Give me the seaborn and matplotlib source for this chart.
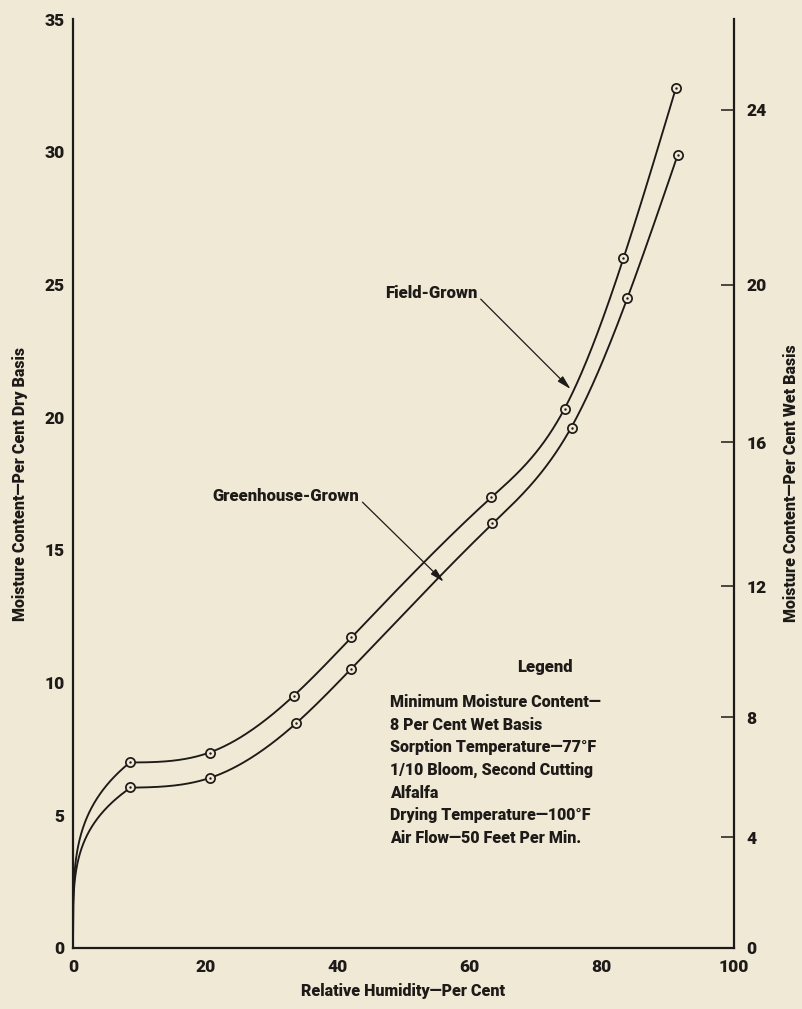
import numpy as np
import matplotlib
matplotlib.use("Agg")
import matplotlib.pyplot as plt
import seaborn as sns

# Sorption readings: relative humidity (%) vs moisture content (% dry basis)
rh_field = [8.6, 20.8, 33.4, 42.1, 63.2, 74.5, 83.3, 91.2]
mc_field = [7.0, 7.36, 9.5, 11.7, 17.0, 20.3, 26.0, 32.4]
rh_green = [8.7, 20.8, 33.8, 42.0, 63.4, 75.5, 83.9, 91.5]
mc_green = [6.05, 6.4, 8.47, 10.5, 16.0, 19.6, 24.5, 29.9]

x_ticks = [0, 20, 40, 60, 80, 100]
dry_ticks = [0, 5, 10, 15, 20, 25, 30, 35]
wet_ticks = [0, 4, 8, 12, 16, 20, 24]

legend_title = "Legend"
legend_lines = [
    "Minimum Moisture Content\u2014",
    "8 Per Cent Wet Basis",
    "Sorption Temperature\u201477\u00b0F",
    "1/10 Bloom, Second Cutting",
    "Alfalfa",
    "Drying Temperature\u2014100\u00b0F",
    "Air Flow\u201450 Feet Per Min.",
]

BG = "#EFE9D6"
INK = "#1D1A17"
WEIGHT = 900

sns.set_theme(style="white")
plt.rcParams["font.family"] = ["Roboto", "DejaVu Sans"]
plt.rcParams["font.weight"] = WEIGHT
plt.rcParams["text.color"] = INK
plt.rcParams["axes.labelcolor"] = INK
plt.rcParams["xtick.color"] = INK
plt.rcParams["ytick.color"] = INK


def smooth_curve(xk, yk, lam=10.0, n=400):
    """Penalised (smoothing-spline style) curve through the readings."""
    xk = np.asarray(xk, float)
    yk = np.asarray(yk, float)
    g = np.linspace(xk[0], xk[-1], n)
    dx = g[1] - g[0]
    P = np.zeros((len(xk), n))
    for i, x in enumerate(xk):
        j = min(int((x - g[0]) / dx), n - 2)
        t = (x - g[j]) / dx
        P[i, j] = 1 - t
        P[i, j + 1] = t
    D = np.zeros((n - 2, n))
    for i in range(n - 2):
        D[i, i:i + 3] = [1, -2, 1]
    D /= dx**2
    A = P.T @ P + lam * dx * (D.T @ D)
    return g, np.linalg.solve(A, P.T @ yk)


def isotherm(rh, mc, power=0.25):
    """Steep rise from zero humidity to the first reading, then a smooth
    curve through the remaining readings."""
    g, y = smooth_curve(rh, mc)
    x_low = np.linspace(0, g[0], 200)
    y_low = y[0] * (x_low / g[0]) ** power
    return np.concatenate([x_low, g[1:]]), np.concatenate([y_low, y[1:]])


fig = plt.figure(figsize=(8.02, 10.09), dpi=100, facecolor=BG)
ax = fig.add_axes([0.091, 0.0605, 0.824, 0.9205])
ax.set_facecolor(BG)

for rh, mc in ((rh_field, mc_field), (rh_green, mc_green)):
    cx, cy = isotherm(rh, mc)
    sns.lineplot(x=cx, y=cy, ax=ax, color=INK, linewidth=1.35,
                 estimator=None, sort=False, legend=False)
    sns.scatterplot(x=rh, y=mc, ax=ax, marker="o", s=44, facecolor=BG,
                    edgecolor=INK, linewidth=1.25, zorder=4, legend=False)
    sns.scatterplot(x=rh, y=mc, ax=ax, marker="o", s=3, color=INK,
                    linewidth=0, zorder=5, legend=False)

ax.set_xlim(0, 100)
ax.set_ylim(0, 35)
ax.set_xticks(x_ticks)
ax.set_yticks(dry_ticks)
ax.tick_params(axis="both", direction="in", length=9.5, width=1.1,
               labelsize=12.5, colors=INK)
ax.tick_params(axis="x", pad=8)
ax.tick_params(axis="y", pad=6)
for lab in ax.get_xticklabels() + ax.get_yticklabels():
    lab.set_fontweight(WEIGHT)

for side in ("top", "right"):
    ax.spines[side].set_visible(False)
for side in ("left", "bottom"):
    ax.spines[side].set_color(INK)
    ax.spines[side].set_linewidth(1.6)

ax.set_xlabel("Relative Humidity\u2014Per Cent", fontsize=11.5,
              fontweight=WEIGHT, labelpad=6)
ax.set_ylabel("Moisture Content\u2014Per Cent Dry Basis", fontsize=11.5,
              fontweight=WEIGHT, labelpad=12)


def dry_to_wet(d):
    d = np.asarray(d, float)
    return 100.0 * d / (100.0 + d)


def wet_to_dry(w):
    w = np.asarray(w, float)
    return 100.0 * w / (100.0 - w)


sec = ax.secondary_yaxis("right", functions=(dry_to_wet, wet_to_dry))
sec.set_yticks(wet_ticks)
sec.tick_params(direction="in", length=9.5, width=1.1, labelsize=12.5,
                pad=9, colors=INK)
for lab in sec.get_yticklabels():
    lab.set_fontweight(WEIGHT)
sec.spines["right"].set_color(INK)
sec.spines["right"].set_linewidth(1.6)
sec.set_ylabel("Moisture Content\u2014Per Cent Wet Basis", fontsize=11.5,
               fontweight=WEIGHT, labelpad=12, rotation=90)

# curve call-outs
arrow = dict(arrowstyle="-|>,head_length=0.7,head_width=0.18", color=INK,
             linewidth=0.9, shrinkA=0, shrinkB=0)
ax.text(61.2, 24.68, "Field-Grown", ha="right", va="center",
        fontsize=12, fontweight=WEIGHT)
ax.annotate("", xy=(75.3, 21.06), xytext=(61.7, 24.45), arrowprops=arrow)
ax.text(43.3, 17.03, "Greenhouse-Grown", ha="right", va="center",
        fontsize=12, fontweight=WEIGHT)
ax.annotate("", xy=(56.1, 13.8), xytext=(43.8, 16.8), arrowprops=arrow)

# legend block
ax.text(71.4, 10.59, legend_title, ha="center", va="center",
        fontsize=12, fontweight=WEIGHT)
for i, line in enumerate(legend_lines):
    ax.text(48.0, 9.27 - i * 0.855, line, ha="left", va="center",
            fontsize=11.5, fontweight=WEIGHT)

fig.savefig("out.png", dpi=100, facecolor=BG)
